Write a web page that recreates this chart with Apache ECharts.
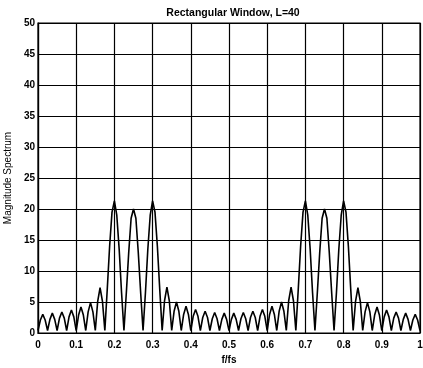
<!DOCTYPE html>
<html>
<head>
<meta charset="utf-8">
<script src="https://cdn.jsdelivr.net/npm/echarts@6/dist/echarts.min.js"></script>
<style>html,body{margin:0;padding:0;background:#fff;}#c{width:423px;height:368px;}</style>
</head>
<body>
<div id="c"></div>
<script>
// normalized frequency f/fs
var freq = [
0,0.00625,0.0125,0.01875,0.025,0.03125,0.0375,0.04375,0.05,0.05625,
0.0625,0.06875,0.075,0.08125,0.0875,0.09375,0.1,0.10625,0.1125,0.11875,
0.125,0.13125,0.1375,0.14375,0.15,0.15625,0.1625,0.16875,0.175,0.18125,
0.1875,0.19375,0.2,0.20625,0.2125,0.21875,0.225,0.23125,0.2375,0.24375,
0.25,0.25625,0.2625,0.26875,0.275,0.28125,0.2875,0.29375,0.3,0.30625,
0.3125,0.31875,0.325,0.33125,0.3375,0.34375,0.35,0.35625,0.3625,0.36875,
0.375,0.38125,0.3875,0.39375,0.4,0.40625,0.4125,0.41875,0.425,0.43125,
0.4375,0.44375,0.45,0.45625,0.4625,0.46875,0.475,0.48125,0.4875,0.49375,
0.5,0.50625,0.5125,0.51875,0.525,0.53125,0.5375,0.54375,0.55,0.55625,
0.5625,0.56875,0.575,0.58125,0.5875,0.59375,0.6,0.60625,0.6125,0.61875,
0.625,0.63125,0.6375,0.64375,0.65,0.65625,0.6625,0.66875,0.675,0.68125,
0.6875,0.69375,0.7,0.70625,0.7125,0.71875,0.725,0.73125,0.7375,0.74375,
0.75,0.75625,0.7625,0.76875,0.775,0.78125,0.7875,0.79375,0.8,0.80625,
0.8125,0.81875,0.825,0.83125,0.8375,0.84375,0.85,0.85625,0.8625,0.86875,
0.875,0.88125,0.8875,0.89375,0.9,0.90625,0.9125,0.91875,0.925,0.93125,
0.9375,0.94375,0.95,0.95625,0.9625,0.96875,0.975,0.98125,0.9875,0.99375,1
];
// magnitude spectrum
var magnitude = [
0.4,2.1,3.0,2.1,0.4,2.2,3.2,2.2,0.4,2.4,
3.4,2.4,0.4,2.6,3.7,2.6,0.4,2.9,4.2,2.9,
0.4,3.4,4.9,3.4,0.4,5.1,7.3,5.1,0.4,7.0,
14.0,19.5,21.3,19.0,13.5,6.5,0.4,6.5,13.0,18.5,
20.0,18.5,13.0,6.5,0.4,6.5,13.5,19.0,21.3,19.5,
14.0,7.0,0.4,5.2,7.4,5.2,0.4,3.5,5.0,3.5,
0.4,3.0,4.3,3.0,0.4,2.7,3.8,2.7,0.4,2.5,
3.5,2.5,0.4,2.3,3.3,2.3,0.4,2.2,3.2,2.2,
0.4,2.2,3.2,2.2,0.4,2.3,3.3,2.3,0.4,2.5,
3.5,2.5,0.4,2.7,3.8,2.7,0.4,3.0,4.3,3.0,
0.4,3.5,5.0,3.5,0.4,5.2,7.4,5.2,0.4,7.0,
14.0,19.5,21.3,19.0,13.5,6.5,0.4,6.5,13.0,18.5,
20.0,18.5,13.0,6.5,0.4,6.5,13.5,19.0,21.3,19.5,
14.0,7.0,0.4,5.1,7.3,5.1,0.4,3.4,4.9,3.4,
0.4,2.9,4.2,2.9,0.4,2.6,3.7,2.6,0.4,2.4,
3.4,2.4,0.4,2.2,3.2,2.2,0.4,2.1,3.0,2.1,0.4
];
var xTicks = ['0','0.1','0.2','0.3','0.4','0.5','0.6','0.7','0.8','0.9','1'];
var yTicks = [0,5,10,15,20,25,30,35,40,45,50];

var pts = freq.map(function(f,i){return [f, magnitude[i]];});
var font = 'Liberation Sans, Arial, sans-serif';
var chart = echarts.init(document.getElementById('c'), null, {renderer:'canvas'});
chart.setOption({
  backgroundColor:'#fff',
  animation:false,
  title:{
    text:'Rectangular Window, L=40',
    left:228, top:3, textAlign:'center',
    textStyle:{fontFamily:font, fontSize:10.5, fontWeight:'bold', color:'#000'}
  },
  grid:{left:38, right:3, top:23, bottom:35, containLabel:false, outerBoundsMode:'none',
    show:true, borderColor:'#000', borderWidth:1.2, backgroundColor:'#fff'},
  xAxis:{
    type:'value', min:0, max:1, interval:0.1,
    name:'f/fs', nameLocation:'middle', nameGap:18,
    nameTextStyle:{fontFamily:font, fontSize:10, fontWeight:'bold', color:'#000'},
    axisLine:{show:true, lineStyle:{color:'#000', width:1.2}},
    axisTick:{show:false},
    axisLabel:{margin:7, fontFamily:font, fontSize:10, fontWeight:'bold', color:'#000',
      formatter:function(v){var i=Math.round(v*10);return xTicks[i]!==undefined?xTicks[i]:'';}},
    splitLine:{show:true, lineStyle:{color:'#000', width:1.2}}
  },
  yAxis:{
    type:'value', min:0, max:50, interval:5,
    name:'Magnitude Spectrum', nameLocation:'middle', nameGap:24,
    nameTextStyle:{fontFamily:font, fontSize:10, color:'#000'},
    axisLine:{show:true, lineStyle:{color:'#000', width:1.2}},
    axisTick:{show:false},
    axisLabel:{margin:3, fontFamily:font, fontSize:10, fontWeight:'bold', color:'#000',
      formatter:function(v){var i=Math.round(v/5);return yTicks[i]!==undefined?String(yTicks[i]):'';}},
    splitLine:{show:true, lineStyle:{color:'#000', width:1.2}}
  },
  series:[{
    type:'line', data:pts, showSymbol:false, smooth:false,
    lineStyle:{color:'#000', width:1.6}, clip:true
  }]
});
</script>
</body>
</html>
